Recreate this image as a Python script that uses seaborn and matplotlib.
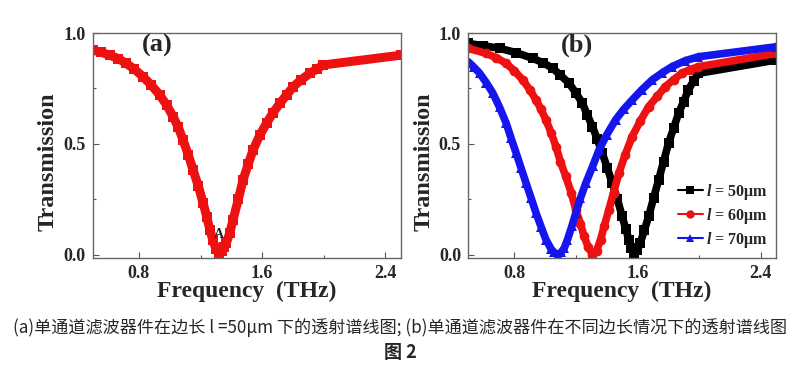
import numpy as np
import pandas as pd
import matplotlib
matplotlib.use('Agg')
import matplotlib.pyplot as plt
import seaborn as sns
from matplotlib.ticker import MultipleLocator

# panel (a): single filter
freq_a = [0.50, 0.555, 0.609, 0.665, 0.717, 0.77, 0.826, 0.88, 0.935, 0.98, 1.021, 1.055,
          1.086, 1.12, 1.151, 1.185, 1.216, 1.24, 1.26, 1.28, 1.30, 1.32, 1.34, 1.355, 1.368,
          1.39, 1.411, 1.445, 1.476, 1.51, 1.541, 1.585, 1.628, 1.67, 1.715, 1.76, 1.802,
          1.855, 1.91, 1.955, 1.997, 2.50]
trans_a = [0.923, 0.913, 0.90, 0.885, 0.863, 0.837, 0.803, 0.765, 0.72, 0.675, 0.623, 0.575,
           0.518, 0.45, 0.383, 0.31, 0.234, 0.17, 0.113, 0.065, 0.025, 0.0, 0.015, 0.035, 0.054,
           0.10, 0.158, 0.25, 0.338, 0.41, 0.473, 0.54, 0.593, 0.64, 0.683, 0.722, 0.758,
           0.79, 0.818, 0.838, 0.856, 0.90]

# panel (b): three side lengths
freq_50 = [0.50, 0.60, 0.705, 0.81, 0.92, 0.99, 1.05, 1.10, 1.157, 1.20, 1.243, 1.275, 1.308,
           1.34, 1.372, 1.405, 1.437, 1.47, 1.501, 1.525, 1.544, 1.56, 1.578, 1.60, 1.619,
           1.645, 1.673, 1.705, 1.738, 1.77, 1.802, 1.835, 1.867, 1.90, 1.931, 1.965, 1.996, 2.50]
trans_50 = [0.953, 0.943, 0.931, 0.912, 0.886, 0.865, 0.841, 0.81, 0.773, 0.73, 0.683, 0.63,
            0.578, 0.52, 0.458, 0.39, 0.323, 0.25, 0.173, 0.115, 0.068, 0.03, 0.0, 0.02, 0.053,
            0.11, 0.173, 0.255, 0.338, 0.42, 0.503, 0.57, 0.638, 0.69, 0.743, 0.785, 0.818, 0.878]

freq_60 = [0.50, 0.619, 0.685, 0.748, 0.80, 0.856, 0.90, 0.942, 0.975, 1.006, 1.04, 1.071,
           1.10, 1.135, 1.17, 1.20, 1.23, 1.254, 1.28, 1.308, 1.335, 1.361, 1.385, 1.415, 1.445,
           1.48, 1.52, 1.566, 1.62, 1.673, 1.73, 1.781, 1.835, 1.888, 1.94, 1.996, 2.50]
trans_60 = [0.931, 0.908, 0.888, 0.863, 0.83, 0.788, 0.745, 0.698, 0.655, 0.608, 0.55, 0.488,
            0.42, 0.353, 0.28, 0.203, 0.14, 0.083, 0.035, 0.0, 0.018, 0.068, 0.13, 0.203, 0.28,
            0.368, 0.45, 0.533, 0.605, 0.668, 0.715, 0.758, 0.79, 0.818, 0.835, 0.848, 0.908]

freq_70 = [0.50, 0.54, 0.576, 0.62, 0.662, 0.705, 0.748, 0.78, 0.813, 0.845, 0.877, 0.91,
           0.942, 0.975, 1.006, 1.04, 1.06, 1.082, 1.105, 1.125, 1.146, 1.175, 1.20, 1.23,
           1.265, 1.31, 1.351, 1.40, 1.458, 1.51, 1.566, 1.63, 1.695, 1.76, 1.824, 1.91,
           1.996, 2.50]
trans_70 = [0.871, 0.845, 0.818, 0.775, 0.728, 0.665, 0.593, 0.525, 0.458, 0.39, 0.323, 0.255,
            0.188, 0.125, 0.068, 0.025, 0.01, 0.0, 0.01, 0.03, 0.068, 0.13, 0.188, 0.255,
            0.323, 0.40, 0.473, 0.54, 0.608, 0.655, 0.698, 0.745, 0.788, 0.82, 0.848, 0.875,
            0.893, 0.938]

labels_b = [r'$l$ = 50μm', r'$l$ = 60μm', r'$l$ = 70μm']
caption = '(a)单通道滤波器件在边长 l =50μm 下的透射谱线图; (b)单通道滤波器件在不同边长情况下的透射谱线图'
fig_title = '图 2'

sns.set_style('ticks')
plt.rcParams['font.family'] = ['Liberation Serif', 'DejaVu Serif']
plt.rcParams['font.weight'] = 'bold'
plt.rcParams['mathtext.fontset'] = 'custom'
plt.rcParams['mathtext.it'] = 'Liberation Serif:italic:bold'
plt.rcParams['mathtext.rm'] = 'Liberation Serif:bold'

fig = plt.figure(figsize=(8, 3.67), dpi=100)
ax_a = fig.add_axes([0.116, 0.297, 0.385, 0.613])
ax_b = fig.add_axes([0.585, 0.297, 0.385, 0.613])

sns.lineplot(x=freq_a, y=trans_a, ax=ax_a, color='#ee1111', lw=6.5, marker='s',
             markersize=7, markeredgewidth=0, solid_joinstyle='round', solid_capstyle='round')

series = [(freq_50, trans_50, 'black', 's', 6.5),
          (freq_60, trans_60, '#ee1111', 'o', 7),
          (freq_70, trans_70, '#1515ee', '^', 7.5)]
for (fx, ty, col, mk, ms), lab in zip(series, labels_b):
    sns.lineplot(x=fx, y=ty, ax=ax_b, color=col, lw=5.5, marker=mk, markersize=ms,
                 markeredgewidth=0, label=lab, solid_joinstyle='round', solid_capstyle='round')

for ax in (ax_a, ax_b):
    ax.set_xlim(0.5, 2.5)
    ax.set_ylim(-0.015, 1.0)
    ax.xaxis.set_major_locator(MultipleLocator(0.8))
    ax.xaxis.set_minor_locator(MultipleLocator(0.4))
    ax.yaxis.set_major_locator(MultipleLocator(0.5))
    ax.yaxis.set_minor_locator(MultipleLocator(0.25))
    ax.tick_params(which='both', direction='in', color='#555555', width=0.8)
    ax.tick_params(which='major', length=4, labelsize=13, pad=5)
    ax.tick_params(which='minor', length=2.5)
    for lbl in ax.get_xticklabels() + ax.get_yticklabels():
        lbl.set_fontweight('bold')
    for sp in ax.spines.values():
        sp.set_visible(True)
        sp.set_color('#666666')
        sp.set_linewidth(1)
    ax.set_xlabel('Frequency  (THz)', fontsize=17, fontweight='bold', labelpad=-1)
    ax.set_ylabel('Transmission', fontsize=17.5, fontweight='bold')
    ax.yaxis.set_label_coords(-0.11, 0.43)

ax_a.text(0.917, 0.945, '(a)', fontsize=19, fontweight='bold', ha='center', va='center')
ax_a.text(1.32, 0.09, 'A', fontsize=10, fontweight='bold', ha='center', va='center',
          color='#222222', zorder=10)
ax_b.text(1.21, 0.945, '(b)', fontsize=19, fontweight='bold', ha='center', va='center')

leg = ax_b.legend(loc='lower right', frameon=False, handlelength=1.6,
                  handletextpad=0.2, labelspacing=0.25, borderaxespad=0.1,
                  prop={'weight': 'bold', 'size': 11.5, 'family': 'Liberation Serif'})
for h in leg.legend_handles:
    h.set_linewidth(1.5)
    h.set_markersize(6)

fig.text(0.5, 0.108, caption, ha='center', va='center', fontsize=12.3,
         family=['Noto Sans CJK SC', 'DejaVu Sans'], fontweight='normal')
fig.text(0.5, 0.04, fig_title, ha='center', va='center', fontsize=13,
         family=['Noto Sans CJK SC', 'DejaVu Sans'], fontweight='bold')

fig.savefig('out.png', dpi=100)
